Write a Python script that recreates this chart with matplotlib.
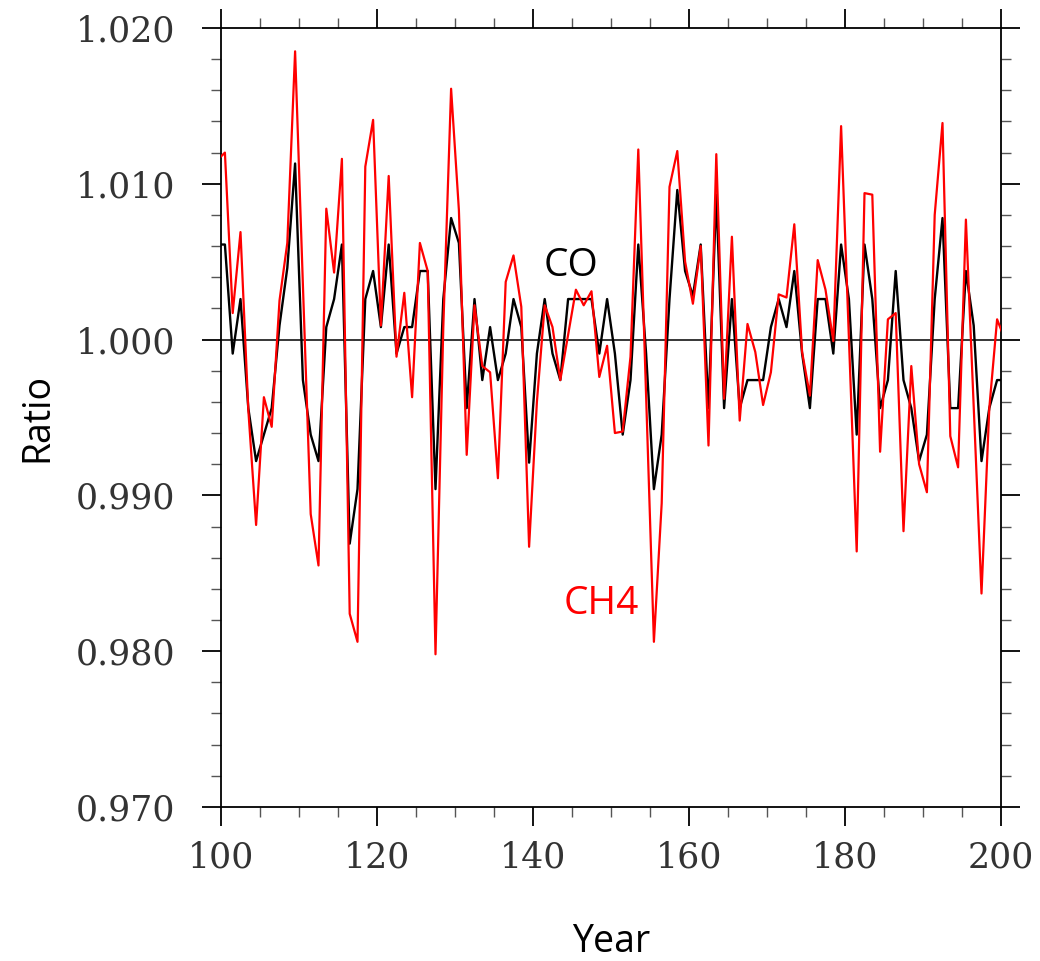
import numpy as np
import matplotlib
matplotlib.use("Agg")
import matplotlib.pyplot as plt
from matplotlib.ticker import MultipleLocator, FormatStrFormatter

# annual means plotted at mid-year
years = np.arange(99.5, 201.0, 1.0)

co_ratio = [
    1.0061, 1.0061, 0.9991, 1.0026, 0.9956, 0.9922, 0.9939, 0.9956, 1.0009, 1.0046,
    1.0113, 0.9974, 0.9939, 0.9922, 1.0008, 1.0026, 1.0061, 0.9869, 0.9904, 1.0026,
    1.0044, 1.0008, 1.0061, 0.9991, 1.0008, 1.0008, 1.0044, 1.0044, 0.9904, 1.0026,
    1.0078, 1.0062, 0.9956, 1.0026, 0.9974, 1.0008, 0.9974, 0.9991, 1.0026, 1.0008,
    0.9921, 0.9991, 1.0026, 0.9991, 0.9974, 1.0026, 1.0026, 1.0026, 1.0026, 0.9991,
    1.0026, 0.9991, 0.9939, 0.9974, 1.0061, 0.9991, 0.9904, 0.9939, 1.0026, 1.0096,
    1.0044, 1.0028, 1.0061, 0.9956, 1.0093, 0.9956, 1.0026, 0.9956, 0.9974, 0.9974,
    0.9974, 1.0008, 1.0026, 1.0008, 1.0044, 0.9991, 0.9956, 1.0026, 1.0026, 0.9991,
    1.0061, 1.0026, 0.9939, 1.0061, 1.0026, 0.9956, 0.9974, 1.0044, 0.9974, 0.9956,
    0.9922, 0.9939, 1.0026, 1.0078, 0.9956, 0.9956, 1.0044, 1.0009, 0.9922, 0.9956,
    0.9974, 0.9974,
]

ch4_ratio = [
    1.0115, 1.0120, 1.0017, 1.0069, 0.9955, 0.9881, 0.9963, 0.9944, 1.0025, 1.0062,
    1.0185, 1.0035, 0.9888, 0.9855, 1.0084, 1.0043, 1.0116, 0.9824, 0.9806, 1.0111,
    1.0141, 1.0009, 1.0105, 0.9989, 1.0030, 0.9963, 1.0062, 1.0044, 0.9798, 1.0008,
    1.0161, 1.0083, 0.9926, 1.0022, 0.9983, 0.9979, 0.9911, 1.0037, 1.0054, 1.0021,
    0.9867, 0.9960, 1.0022, 1.0008, 0.9974, 1.0003, 1.0032, 1.0022, 1.0031, 0.9976,
    0.9996, 0.9940, 0.9941, 0.9989, 1.0122, 0.9964, 0.9806, 0.9895, 1.0098, 1.0121,
    1.0050, 1.0023, 1.0060, 0.9932, 1.0119, 0.9962, 1.0066, 0.9948, 1.0010, 0.9992,
    0.9958, 0.9979, 1.0029, 1.0027, 1.0074, 0.9992, 0.9964, 1.0051, 1.0032, 0.9999,
    1.0137, 1.0001, 0.9864, 1.0094, 1.0093, 0.9928, 1.0013, 1.0017, 0.9877, 0.9983,
    0.9920, 0.9902, 1.0080, 1.0139, 0.9938, 0.9918, 1.0077, 0.9957, 0.9837, 0.9956,
    1.0013, 1.0000,
]

fig = plt.figure(figsize=(10.4, 9.61), dpi=100)
ax = fig.add_axes([0.2125, 0.1603, 0.75, 0.8106])

ax.axhline(1.0, color="black", lw=1.1, zorder=1)
ax.plot(years, co_ratio, color="black", lw=1.7, zorder=2)
ax.plot(years, ch4_ratio, color="red", lw=1.6, zorder=3)

ax.set_xlim(100, 200)
ax.set_ylim(0.970, 1.020)

ax.xaxis.set_major_locator(MultipleLocator(20))
ax.xaxis.set_minor_locator(MultipleLocator(5))
ax.yaxis.set_major_locator(MultipleLocator(0.01))
ax.yaxis.set_minor_locator(MultipleLocator(0.002))
ax.yaxis.set_major_formatter(FormatStrFormatter("%.3f"))

ax.tick_params(which="both", direction="out", top=True, right=True)
ax.tick_params(which="major", length=14, width=1.3, color="black")
ax.tick_params(which="minor", length=7, width=1.0, color="#555555")
ax.tick_params(axis="x", which="major", pad=10, labelsize=25, labelcolor="#333333")
ax.tick_params(axis="y", which="major", pad=19, labelsize=25, labelcolor="#333333")
for lab in ax.get_xticklabels() + ax.get_yticklabels():
    lab.set_fontfamily("DejaVu Serif")

for sp in ax.spines.values():
    sp.set_linewidth(1.3)

ax.set_xlabel("Year", fontsize=27, fontfamily="Open Sans")
ax.xaxis.label.set_va("baseline")
ax.xaxis.set_label_coords(0.5, -0.186)
ax.set_ylabel("Ratio", fontsize=27, fontfamily="Open Sans")
ax.yaxis.label.set_va("baseline")
ax.yaxis.set_label_coords(-0.222, 0.5)

ax.text(144.9, 1.0047, "CO", color="black", fontsize=28, fontfamily="Open Sans",
        ha="center", va="center")
ax.text(148.8, 0.9830, "CH4", color="red", fontsize=28, fontfamily="Open Sans",
        ha="center", va="center")

fig.savefig("out.png", dpi=100)
